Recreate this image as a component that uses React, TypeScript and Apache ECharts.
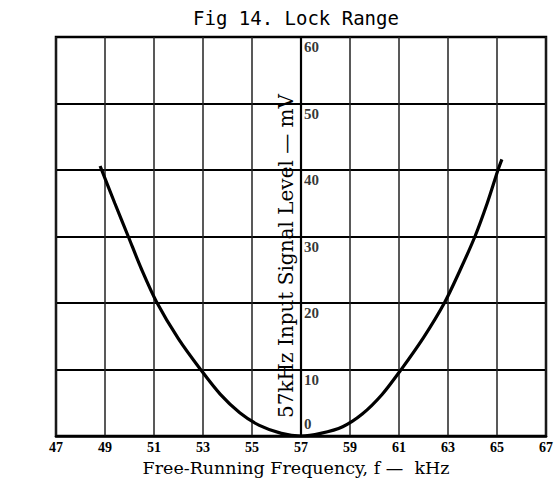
import React, { useEffect, useRef } from "react";
import * as echarts from "echarts";

const titleText = "Fig 14. Lock Range";
const xAxisName = "Free-Running Frequency, f —  kHz";
const yAxisName = "57kHz Input Signal Level — mV";

const xMin = 47;
const xMax = 67;
const xStep = 2;
const yMin = 0;
const yMax = 60;
const yStep = 10;

const yTickValues = [60, 50, 40, 30, 20, 10, 0];
const yLabelAxisAt = 57;

const freqKHz = [
  48.8, 49.4, 49.95, 50.5, 51.1, 52.0, 52.9, 53.7, 54.5, 55.3, 56.2, 57.0,
  57.8, 58.7, 59.5, 60.3, 61.05, 62.0, 62.85, 63.5, 64.1, 64.6, 65.04, 65.2,
];
const levelMV = [
  40.6, 35, 30, 25, 20.2, 14.6, 10, 6.3, 3.5, 1.6, 0.4, 0,
  0.4, 1.4, 3.3, 6.2, 9.8, 14.8, 20, 25, 30, 35, 40, 41.6,
];

const LABEL_FONT = "'Liberation Serif', 'DejaVu Serif', serif";
const NAME_FONT = "'DejaVu Serif', 'Liberation Serif', serif";

export default function App() {
  const ref = useRef<HTMLDivElement>(null);

  useEffect(() => {
    if (!ref.current) return;
    const chart = echarts.init(ref.current, undefined, { renderer: "svg" });

    const curve = freqKHz.map((f, i) => [f, levelMV[i]]);
    const labelData = yTickValues.map((v) => ({
      value: [yLabelAxisAt, v],
      label: {
        offset: v === 0 ? [0, -12] : [0, 10],
      },
    }));

    chart.setOption({
      animation: false,
      backgroundColor: "#fff",
      title: {
        text: titleText,
        left: 193,
        top: 8,
        padding: 0,
        textStyle: {
          fontFamily: "'DejaVu Sans Mono', monospace",
          fontWeight: "normal",
          fontSize: 19,
          color: "#000",
        },
      },
      grid: {
        left: 56,
        right: 9,
        top: 37,
        bottom: 47,
        show: true,
        borderColor: "#000",
        borderWidth: 2.5,
        backgroundColor: "transparent",
      },
      xAxis: {
        type: "value",
        min: xMin,
        max: xMax,
        interval: xStep,
        name: xAxisName,
        nameLocation: "middle",
        nameGap: 22,
        nameTextStyle: {
          fontFamily: NAME_FONT,
          fontSize: 17.5,
          color: "#000",
          padding: [0, 10, 0, 0],
        },
        axisLine: { lineStyle: { color: "#000", width: 2.5 } },
        axisTick: { show: false },
        axisLabel: {
          margin: 4,
          color: "#000",
          fontFamily: LABEL_FONT,
          fontWeight: "bold",
          fontSize: 14,
        },
        splitLine: { show: true, lineStyle: { color: "#222", width: 1.5 } },
      },
      yAxis: {
        type: "value",
        min: yMin,
        max: yMax,
        interval: yStep,
        axisLine: { show: false },
        axisTick: { show: false },
        axisLabel: { show: false },
        splitLine: { show: true, lineStyle: { color: "#000", width: 2 } },
      },
      graphic: [
        {
          type: "text",
          x: 286,
          y: 256,
          rotation: Math.PI / 2,
          style: {
            text: yAxisName,
            fontFamily: NAME_FONT,
            fontSize: 20,
            fill: "#000",
            align: "center",
            verticalAlign: "middle",
          },
        },
      ],
      series: [
        {
          type: "line",
          data: curve,
          smooth: 0.3,
          symbol: "none",
          lineStyle: { color: "#000", width: 3.2 },
          z: 5,
          markLine: {
            silent: true,
            symbol: "none",
            label: { show: false },
            lineStyle: { color: "#000", width: 2.2, type: "solid" },
            data: [{ xAxis: yLabelAxisAt }],
          },
        },
        {
          type: "scatter",
          data: labelData,
          symbolSize: 0,
          silent: true,
          label: {
            show: true,
            position: "right",
            distance: 3,
            formatter: (p: any) => String(p.value[1]),
            color: "#000",
            fontFamily: LABEL_FONT,
            fontWeight: "bold",
            fontSize: 15,
          },
        },
      ],
    });

    return () => chart.dispose();
  }, []);

  return (
    <div
      ref={ref}
      style={{ position: "absolute", left: 0, top: 0, width: 556, height: 483 }}
    />
  );
}
